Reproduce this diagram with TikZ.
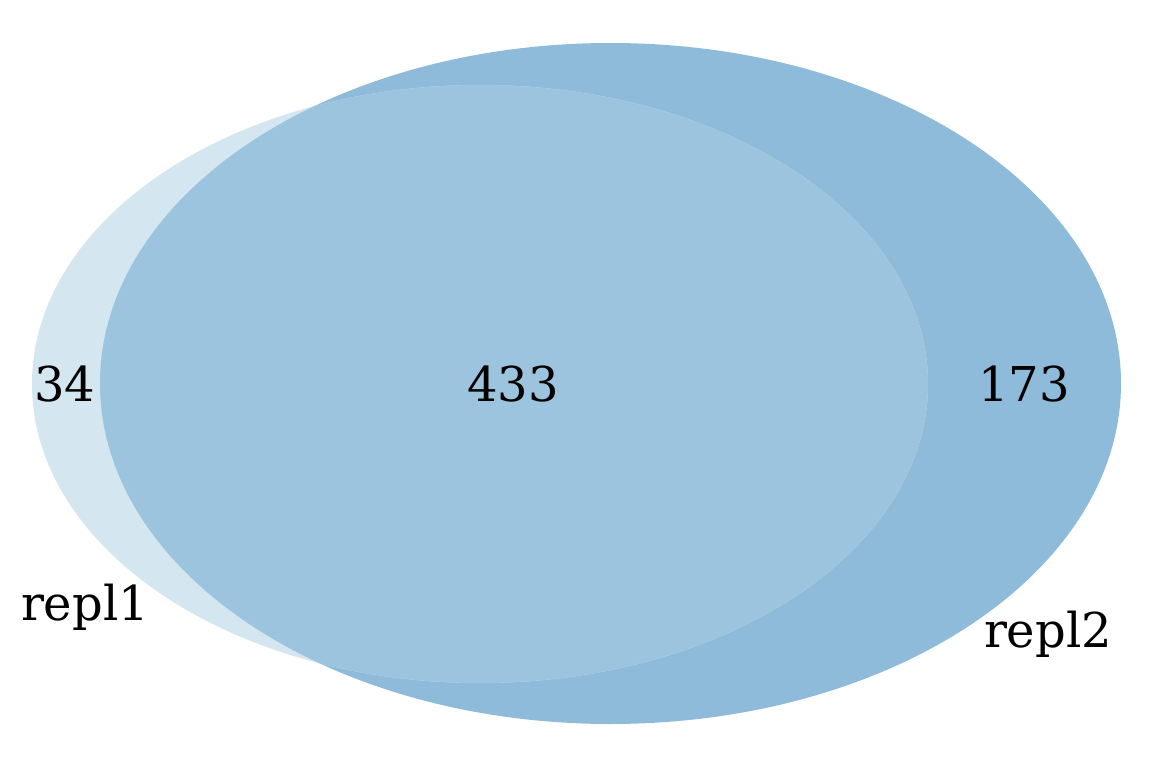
\documentclass[tikz,border=0pt]{standalone}
\usepackage{fontspec}
\setmainfont{DejaVu Serif}
\definecolor{lightA}{HTML}{D4E6EF}
\definecolor{darkB}{HTML}{8FBBDA}
\definecolor{midAB}{HTML}{9DC4DE}
\begin{document}
\begin{tikzpicture}[x=1pt,y=-1pt,
  lbl/.style={anchor=base,inner sep=0pt,font=\fontsize{48}{58}\selectfont}]
\useasboundingbox (0,0) rectangle (1152,768);
\fill[darkB] (610.5,383.5) ellipse [x radius=510.5, y radius=340.5];
\fill[lightA] (480,384) ellipse [x radius=448, y radius=299];
\begin{scope}
  \clip (480,384) ellipse [x radius=448, y radius=299];
  \fill[midAB] (610.5,383.5) ellipse [x radius=510.5, y radius=340.5];
\end{scope}
\node[lbl] (a) at (65,401) {34};
\node[lbl] (ab) at (513,401) {433};
\node[lbl] (b) at (1024,401) {173};
\node[lbl] (la) at (85,620) {repl1};
\node[lbl] (lb) at (1048,647) {repl2};
\end{tikzpicture}
\end{document}
